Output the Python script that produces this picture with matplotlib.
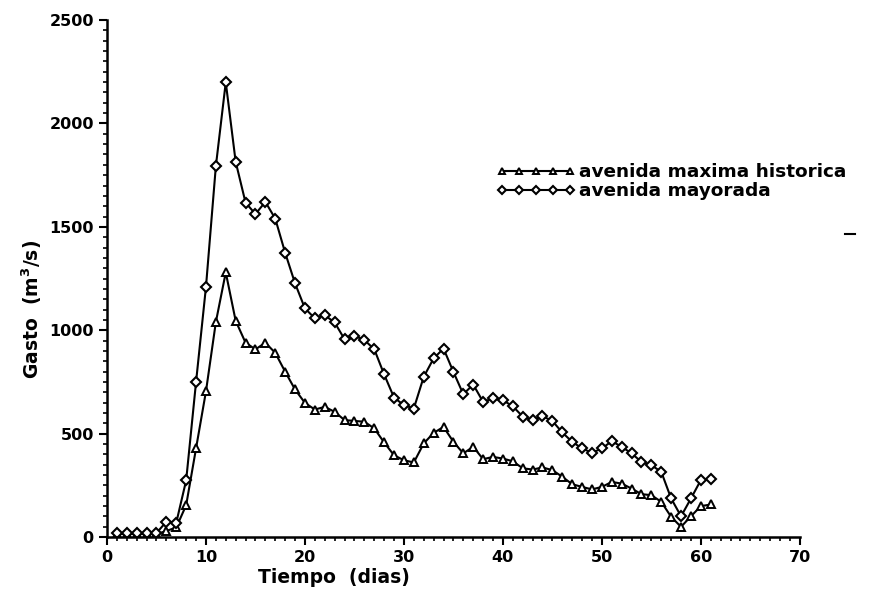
import numpy as np
import matplotlib
matplotlib.use("Agg")
import matplotlib.pyplot as plt
from matplotlib.lines import Line2D
from matplotlib.ticker import MultipleLocator

# dias de registro
dias = np.arange(1, 62)

# avenida maxima historica (m3/s)
historica = [15, 15, 15, 15, 15, 30, 47, 155, 430, 705,
             1040, 1280, 1046, 940, 908, 940, 891, 800, 714, 649,
             617, 630, 606, 566, 562, 558, 526, 458, 396, 372,
             361, 453, 504, 533, 461, 405, 437, 377, 388, 380,
             367, 333, 327, 337, 324, 292, 256, 243, 231, 243,
             267, 259, 235, 208, 203, 171, 98, 50, 101, 150,
             158]

# avenida mayorada (m3/s)
mayorada = [20, 20, 20, 20, 20, 75, 70, 275, 751, 1210,
            1794, 2199, 1815, 1617, 1562, 1621, 1540, 1375, 1227, 1106,
            1058, 1073, 1038, 957, 973, 953, 909, 787, 675, 638,
            622, 775, 864, 912, 799, 691, 738, 654, 671, 662,
            633, 583, 566, 585, 562, 506, 461, 429, 408, 429,
            464, 437, 405, 364, 348, 316, 187, 101, 187, 276,
            280]

fig = plt.figure(figsize=(8.77, 5.89), dpi=100)
ax = fig.add_axes([0.122, 0.088, 0.79, 0.878])

fuente = dict(family="DejaVu Sans", weight="bold")

ax.plot(dias, historica, color="black", lw=1.5, marker="^", ms=6,
        mfc="white", mec="black", mew=1.4, label="avenida maxima historica")
ax.plot(dias, mayorada, color="black", lw=1.5, marker="D", ms=5.5,
        mfc="white", mec="black", mew=1.5, label="avenida mayorada")

ax.set_xlim(0, 70)
ax.set_ylim(0, 2500)
ax.xaxis.set_major_locator(MultipleLocator(10))
ax.xaxis.set_minor_locator(MultipleLocator(1))
ax.yaxis.set_major_locator(MultipleLocator(500))
ax.yaxis.set_minor_locator(MultipleLocator(50))
ax.tick_params(which="major", direction="out", length=6, width=1.5,
               labelsize=11.5)
ax.tick_params(which="minor", direction="out", length=3, width=1.2)
for lbl in ax.get_xticklabels() + ax.get_yticklabels():
    lbl.set_fontweight("bold")

ax.spines["top"].set_visible(False)
ax.spines["right"].set_visible(False)
ax.spines["left"].set_linewidth(1.8)
ax.spines["bottom"].set_linewidth(1.8)

ax.set_xlabel("Tiempo  (dias)", fontsize=13.5, labelpad=2, x=0.328, **fuente)
ax.set_ylabel(r"Gasto  (m$^\mathbf{3}$/s)", fontsize=13.5, labelpad=4,
              y=0.44, **fuente)

leg = ax.legend(loc="upper left", bbox_to_anchor=(0.538, 0.755), frameon=False,
                numpoints=5, handlelength=4.3, handletextpad=0.2,
                labelspacing=0.05, markerscale=0.72,
                prop=dict(family="DejaVu Sans", weight="bold", size=13.3))

# marca suelta a la derecha
fig.add_artist(Line2D([845 / 877, 855 / 877], [1 - 234 / 589] * 2,
                      color="black", lw=1.5))

fig.savefig("out.png", dpi=100)
